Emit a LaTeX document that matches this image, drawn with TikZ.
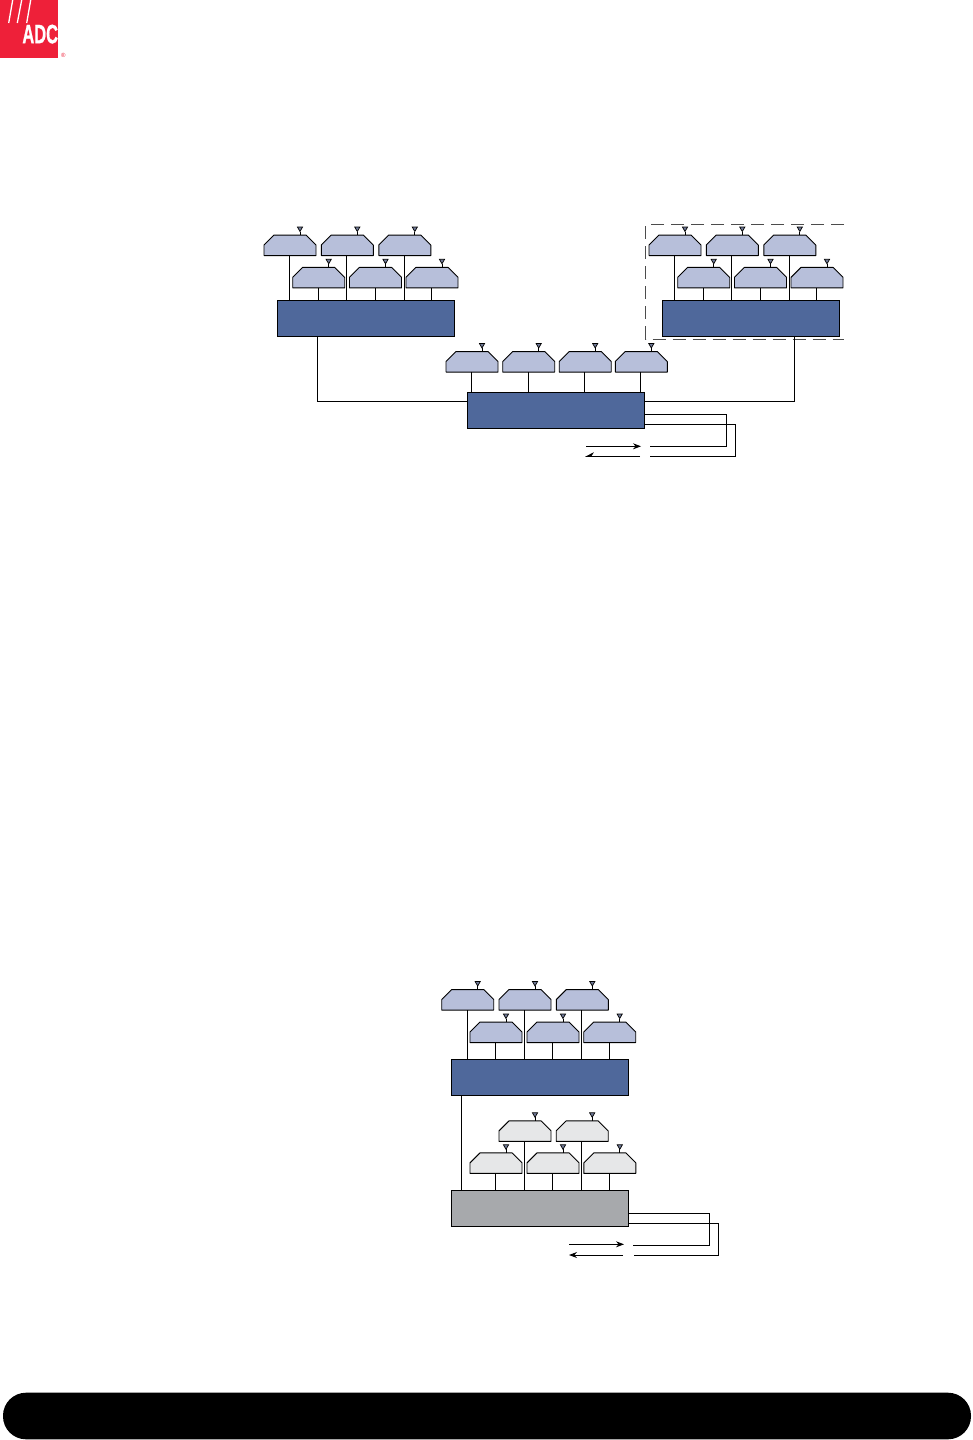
\documentclass[tikz,border=0pt]{standalone}
\usepackage{fontspec}
\usepackage{graphicx}
\setmainfont{Liberation Sans}
\newfontfamily\logofont[FakeBold=1.2]{Liberation Sans Bold}
\usetikzlibrary{shapes.geometric,arrows.meta}
\definecolor{logored}{HTML}{EE2039}
\definecolor{unitblue}{HTML}{B7BFDA}
\definecolor{hubblue}{HTML}{4F689B}
\definecolor{hubgray}{HTML}{A7A9AC}
\definecolor{unitgray}{HTML}{E6E7E8}
\definecolor{antfill}{HTML}{6E7896}
\tikzset{
  unitslot/.style={rectangle,minimum width=52pt,minimum height=20.5pt,inner sep=0pt,outer sep=0pt},
  unitbase/.style={draw=black,line width=.9pt,line join=bevel},
  unitb/.style={unitbase,fill=unitblue},
  unitg/.style={unitbase,fill=unitgray},
  hubbase/.style={rectangle,draw=black,line width=.9pt,minimum width=177pt,minimum height=36pt,inner sep=0pt,outer sep=0pt},
  hubb/.style={hubbase,fill=hubblue},
  hubg/.style={hubbase,fill=hubgray},
  antenna/.style={regular polygon,regular polygon sides=3,shape border rotate=180,draw=black,line width=.7pt,fill=antfill,inner sep=0pt,outer sep=0pt,minimum size=6pt},
  wire/.style={draw=black,line width=.9pt},
  flow/.style={wire,-{Stealth[length=8pt,width=6pt]}},
  flowhalf/.style={wire,-{Stealth[harpoon,swap,length=8pt,width=8pt]}},
  scopeline/.style={draw=black!70,line width=.7pt,dash pattern=on 13pt off 7pt}
}
% \unitn{name}{centre x}{top y}{style}{hub}: unit with its antenna and its wire to the hub
\newcommand{\unitn}[5]{%
  \node[unitslot] (#1) at (#2,#3+10.3) {};
  \draw[#4] (#1.south west) -- ([yshift=-10pt]#1.north west) -- ([xshift=10pt]#1.north west)
     -- ([xshift=-10pt]#1.north east) -- ([yshift=-10pt]#1.north east) -- (#1.south east) -- cycle;
  \node[antenna] (#1ant) at (#2+10,#3-6.5) {};
  \draw[wire] (#1ant.south) -- (#1ant.south |- #1.north);
  \draw[wire] ([xshift=-.5pt]#1.south) -- ([xshift=-.5pt]#1.south |- #5.north);
}
\begin{document}
\begin{tikzpicture}[x=1pt,y=-1pt]
\useasboundingbox (0,0) rectangle (972,1440);
% logo
\fill[logored] (0,0) rectangle (58,58);
\draw[white,line width=1.3pt] (12.7,0) -- (8.7,23) (21.7,0) -- (17.3,23) (30.7,0) -- (26.7,23);
\node[anchor=base east,inner sep=0pt,text=white,font=\logofont\fontsize{26.5}{26.5}\selectfont] (logotext) at (58.2,43.2) {\scalebox{.62}[1]{ADC}};
\node[inner sep=0pt,text=logored,font=\fontsize{6}{6}\selectfont] (logoreg) at (63.3,55.7) {®};
% footer
\node[rounded corners=23pt,fill=black,minimum width=968pt,minimum height=46.6pt,inner sep=0pt] (footer) at (487,1416) {};
% hubs
\node[hubb] (hubA) at (365.8,318.3) {};
\node[hubb] (hubB) at (750.8,318.3) {};
\node[hubb] (hubC) at (556.4,410.3) {};
\node[hubb] (hubD) at (539.8,1077.2) {};
\node[hubg] (hubE) at (539.8,1208.2) {};
% group A
\unitn{a1}{290}{235}{unitb}{hubA}
\unitn{a2}{347.3}{235}{unitb}{hubA}
\unitn{a3}{404.8}{235}{unitb}{hubA}
\unitn{a4}{318.7}{267.3}{unitb}{hubA}
\unitn{a5}{375.5}{267.3}{unitb}{hubA}
\unitn{a6}{432}{267.3}{unitb}{hubA}
% group B
\unitn{b1}{675}{235}{unitb}{hubB}
\unitn{b2}{732.3}{235}{unitb}{hubB}
\unitn{b3}{789.8}{235}{unitb}{hubB}
\unitn{b4}{703.7}{267.3}{unitb}{hubB}
\unitn{b5}{760.5}{267.3}{unitb}{hubB}
\unitn{b6}{817}{267.3}{unitb}{hubB}
% group C
\unitn{c1}{472}{351.5}{unitb}{hubC}
\unitn{c2}{528.7}{351.5}{unitb}{hubC}
\unitn{c3}{585.2}{351.5}{unitb}{hubC}
\unitn{c4}{641.3}{351.5}{unitb}{hubC}
% group D
\unitn{d1}{467.7}{989.5}{unitb}{hubD}
\unitn{d2}{525}{989.5}{unitb}{hubD}
\unitn{d3}{582.3}{989.5}{unitb}{hubD}
\unitn{d4}{496}{1022}{unitb}{hubD}
\unitn{d5}{553}{1022}{unitb}{hubD}
\unitn{d6}{609.7}{1022}{unitb}{hubD}
% group E
\unitn{e1}{525}{1120.8}{unitg}{hubE}
\unitn{e2}{582.2}{1120.8}{unitg}{hubE}
\unitn{e3}{496}{1152.8}{unitg}{hubE}
\unitn{e4}{553}{1152.8}{unitg}{hubE}
\unitn{e5}{609.8}{1152.8}{unitg}{hubE}
% scope outline
\coordinate (sa) at (844,224.3);
\coordinate (sb) at (645.7,224.3);
\coordinate (sc) at (645.7,339);
\coordinate (sd) at (844,339);
\draw[scopeline] (sa) -- (sb) -- (sc) -- (sd);
% hub links
\draw[wire] ([xshift=-48.3pt]hubA.south) |- ([yshift=9.3pt]hubC.west);
\draw[wire] ([xshift=43.7pt]hubB.south) |- ([yshift=9.3pt]hubC.east);
\draw[wire] ([xshift=-78pt]hubD.south) -- ([xshift=-78pt]hubE.north);
% loops C
\coordinate (cc1) at (726.3,446.3);
\coordinate (ce1) at (650,446.3);
\coordinate (cc2) at (735.3,456.3);
\coordinate (ce2) at (650,456.3);
\draw[wire] ([yshift=-4pt]hubC.east) -| (cc1) -- (ce1);
\draw[wire] ([yshift=-14pt]hubC.east) -| (cc2) -- (ce2);
\coordinate (ca1) at (586,446.3);
\coordinate (cb1) at (641,446.3);
\coordinate (ca2) at (640,456.3);
\coordinate (cb2) at (585,456.3);
\draw[flow] (ca1) -- (cb1);
\draw[flowhalf] (ca2) -- (cb2);
% loops E
\coordinate (ec1) at (709.3,1245.3);
\coordinate (ee1) at (633,1245.3);
\coordinate (ec2) at (718.3,1255.3);
\coordinate (ee2) at (634,1255.3);
\draw[wire] ([yshift=-5pt]hubE.east) -| (ec1) -- (ee1);
\draw[wire] ([yshift=-15pt]hubE.east) -| (ec2) -- (ee2);
\coordinate (ea1) at (569,1244.3);
\coordinate (eb1) at (624,1244.3);
\coordinate (ea2) at (623,1255);
\coordinate (eb2) at (569,1255);
\draw[flow] (ea1) -- (eb1);
\draw[flow] (ea2) -- (eb2);
\end{tikzpicture}
\end{document}
